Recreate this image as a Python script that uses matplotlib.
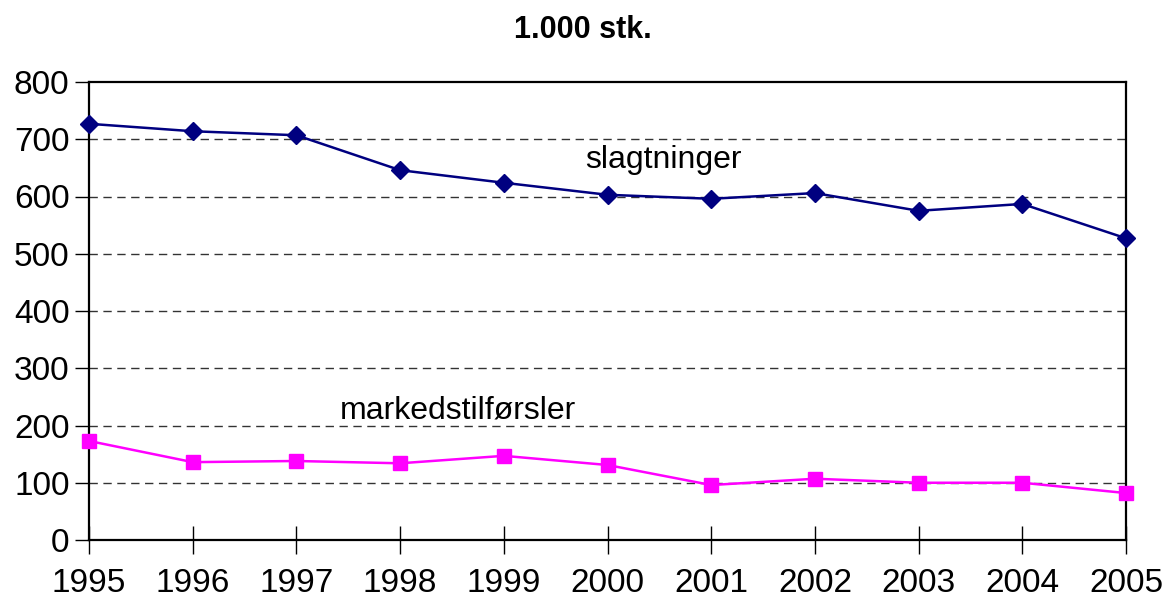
import matplotlib.pyplot as plt

plt.rcParams['font.family'] = ['Liberation Sans', 'DejaVu Sans']

# Data (1.000 stk.)
years = [1995, 1996, 1997, 1998, 1999, 2000, 2001, 2002, 2003, 2004, 2005]
slagtninger = [727, 714, 707, 646, 624, 603, 596, 606, 575, 587, 527]
markedstilforsler = [173, 136, 138, 134, 147, 131, 96, 107, 100, 100, 82]

fig = plt.figure(figsize=(11.65, 6.01), dpi=100)
ax = fig.add_axes([89 / 1165, 1 - 540 / 601, (1126 - 89) / 1165, (540 - 82) / 601])

ax.plot(years, slagtninger, color='#000080', lw=1.8, marker='D', markersize=9, clip_on=False, zorder=3)
ax.plot(years, markedstilforsler, color='#FF00FF', lw=1.8, marker='s', markersize=10, clip_on=False, zorder=3)

ax.set_xlim(1995, 2005)
ax.set_ylim(0, 800)
ax.set_xticks(years)
ax.set_yticks(range(0, 801, 100))

for y in range(100, 800, 100):
    ax.axhline(y, color='#333333', lw=1.0, ls=(0, (6, 4)), zorder=1)

for s in ax.spines.values():
    s.set_linewidth(1.6)
    s.set_color('black')

ax.tick_params(axis='y', direction='out', length=10, width=1, labelsize=24, pad=4)
ax.tick_params(axis='x', direction='inout', length=20, width=1, labelsize=24, pad=10)

ax.text(1999.78, 664, 'slagtninger', fontsize=23, va='center', ha='left')
ax.text(1997.42, 227, 'markedstilførsler', fontsize=23, va='center', ha='left')

fig.text(0.5, 1 - 30 / 601, '1.000 stk.', fontsize=22, fontweight='bold', ha='center', va='center')

fig.savefig('out.png', dpi=100)
